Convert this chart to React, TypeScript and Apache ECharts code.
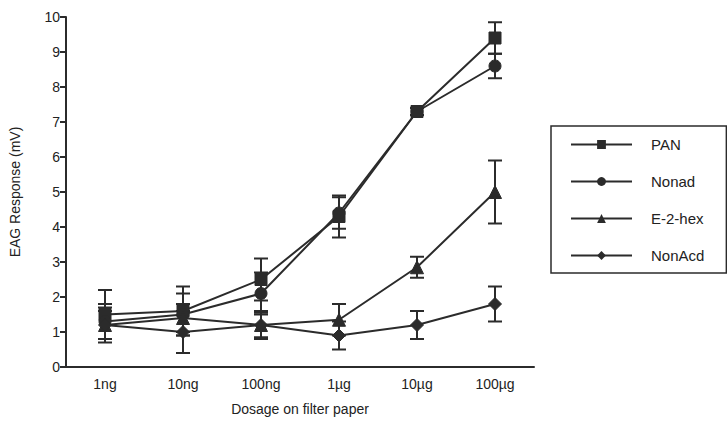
import React, { useEffect, useRef } from "react";
import * as echarts from "echarts";

const categories = ["1ng", "10ng", "100ng", "1µg", "10µg", "100µg"];
const seriesNames = ["PAN", "Nonad", "E-2-hex", "NonAcd"];
const panValues = [1.5, 1.6, 2.5, 4.3, 7.3, 9.4];
const panErrors = [0.7, 0.7, 0.6, 0.6, 0.1, 0.45];
const nonadValues = [1.3, 1.5, 2.1, 4.4, 7.3, 8.6];
const nonadErrors = [0.5, 0.6, 0.6, 0.45, 0.1, 0.35];
const hexValues = [1.2, 1.4, 1.2, 1.35, 2.85, 5.0];
const hexErrors = [0.5, 0.4, 0.4, 0.45, 0.3, 0.9];
const acdValues = [1.2, 1.0, 1.2, 0.9, 1.2, 1.8];
const acdErrors = [0.4, 0.6, 0.35, 0.4, 0.4, 0.5];
const symbols = ["rect", "circle", "triangle", "diamond"];
const symbolSizes = [12, 12, 13, 13];

const INK = "#2b2b2b";
const FONT = "Liberation Sans, Arial, sans-serif";

export default function App() {
  const ref = useRef<HTMLDivElement>(null);
  useEffect(() => {
    if (!ref.current) return;
    const chart = echarts.init(ref.current, undefined, { renderer: "svg" });
    const allValues = [panValues, nonadValues, hexValues, acdValues];
    const allErrors = [panErrors, nonadErrors, hexErrors, acdErrors];

    const errorSeries = allValues.map((vals, si) => ({
      type: "custom",
      name: seriesNames[si] + " error",
      z: 1,
      renderItem: (params: any, api: any) => {
        const x = api.value(0);
        const lo = api.coord([x, api.value(1)]);
        const hi = api.coord([x, api.value(2)]);
        const hw = 7;
        const style = { stroke: INK, lineWidth: 2 };
        return {
          type: "group",
          children: [
            { type: "line", shape: { x1: lo[0], y1: lo[1], x2: hi[0], y2: hi[1] }, style },
            { type: "line", shape: { x1: lo[0] - hw, y1: lo[1], x2: lo[0] + hw, y2: lo[1] }, style },
            { type: "line", shape: { x1: hi[0] - hw, y1: hi[1], x2: hi[0] + hw, y2: hi[1] }, style },
          ],
        };
      },
      data: vals.map((v, i) => [i, v - allErrors[si][i], v + allErrors[si][i]]),
      silent: true,
    }));

    const lineSeries = allValues.map((vals, si) => ({
      type: "line",
      name: seriesNames[si],
      data: vals,
      symbol: symbols[si],
      symbolSize: symbolSizes[si],
      showAllSymbol: true,
      z: 3,
      lineStyle: { color: INK, width: 2 },
      itemStyle: { color: INK, borderColor: INK },
    }));

    chart.setOption({
      animation: false,
      backgroundColor: "#ffffff",
      textStyle: { fontFamily: FONT },
      grid: { left: 66, right: 193, top: 17, bottom: 59, containLabel: false },
      legend: {
        data: seriesNames,
        orient: "vertical",
        left: 551,
        top: 126,
        width: 174,
        borderColor: INK,
        borderWidth: 1.5,
        padding: [11, 22, 10, 19],
        itemWidth: 61,
        itemHeight: 11,
        itemGap: 22,
        textStyle: { fontSize: 15, color: "#222", fontFamily: FONT, padding: [0, 0, 0, 14] },
      },
      xAxis: {
        type: "category",
        data: categories,
        boundaryGap: true,
        name: "Dosage on filter paper",
        nameLocation: "middle",
        nameGap: 35,
        nameTextStyle: { fontSize: 14, color: "#222", fontFamily: FONT },
        axisLine: { lineStyle: { color: INK, width: 2 } },
        axisTick: { alignWithLabel: true, length: 6, lineStyle: { color: INK, width: 2 } },
        axisLabel: { fontSize: 14, color: "#222", margin: 10, fontFamily: FONT },
      },
      yAxis: {
        type: "value",
        min: 0,
        max: 10,
        interval: 1,
        name: "EAG Response (mV)",
        nameLocation: "middle",
        nameGap: 44,
        nameTextStyle: { fontSize: 14, color: "#222", fontFamily: FONT },
        axisLine: { show: true, lineStyle: { color: INK, width: 2 } },
        axisTick: { show: true, length: 6, lineStyle: { color: INK, width: 2 } },
        axisLabel: { fontSize: 14, color: "#222", margin: 6, fontFamily: FONT },
        splitLine: { show: false },
      },
      series: [...errorSeries, ...lineSeries],
    });
    return () => chart.dispose();
  }, []);
  return <div ref={ref} style={{ width: 727, height: 426, position: "absolute", left: 0, top: 0 }} />;
}
